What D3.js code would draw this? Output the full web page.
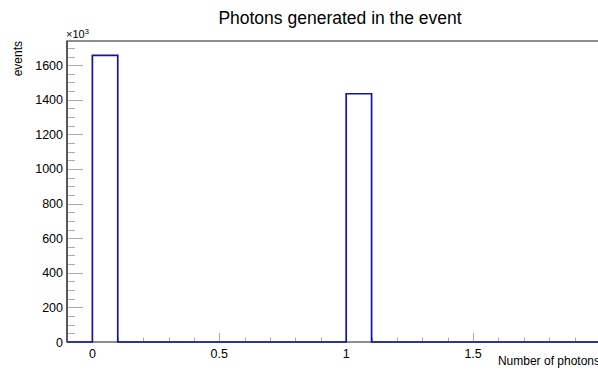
<!DOCTYPE html>
<html>
<head>
<meta charset="utf-8">
<script src="https://cdn.jsdelivr.net/npm/d3@7"></script>
<style>
  html, body { margin: 0; padding: 0; background: #fff; }
  svg { display: block; font-family: "Liberation Sans", Arial, Helvetica, sans-serif; }
</style>
</head>
<body>
<svg id="chart" width="598" height="371"></svg>
<script>
// Histogram content: bin lower edges with non-zero entries, and their counts
const photonBins = [0, 1];
const eventCounts = [1657000, 1435000];
const binWidth = 0.1;
const xRange = [-0.1, 2.0];
const yTickLabels = ["0", "200", "400", "600", "800", "1000", "1200", "1400", "1600"];
const xTickLabels = ["0", "0.5", "1", "1.5"];

const W = 598, H = 371;
const frame = { left: 67, right: 600, top: 41, bottom: 342 };

const svg = d3.select("#chart");

const yMax = d3.max(eventCounts) * 1.05;
const x = d3.scaleLinear().domain(xRange).range([frame.left, frame.right]);
const y = d3.scaleLinear().domain([0, yMax]).range([frame.bottom, frame.top]);

// Frame box
svg.append("rect")
  .attr("x", frame.left).attr("y", frame.top)
  .attr("width", frame.right - frame.left).attr("height", frame.bottom - frame.top)
  .attr("fill", "none").attr("stroke", "#444").attr("stroke-width", 1.2);

// Y axis ticks (major every 200k, minor every 50k)
const yMinor = d3.range(0, yMax, 50000);
svg.append("g").selectAll("line").data(yMinor).join("line")
  .attr("x1", frame.left).attr("x2", d => frame.left + (d % 200000 === 0 ? 16 : 8))
  .attr("y1", d => Math.round(y(d)) + 0.5).attr("y2", d => Math.round(y(d)) + 0.5)
  .attr("stroke", "#aaa").attr("stroke-width", 1);

svg.append("g").selectAll("text").data(yTickLabels).join("text")
  .attr("x", frame.left - 4)
  .attr("y", (d, i) => y(i * 200000))
  .attr("dy", "0.36em")
  .attr("text-anchor", "end")
  .attr("font-size", 12.5)
  .attr("fill", "#000")
  .text(d => d);

// Exponent marker
const expo = svg.append("text")
  .attr("x", frame.left - 1).attr("y", frame.top - 3)
  .attr("font-size", 11).attr("fill", "#000");
expo.append("tspan").text("\u00d710");
expo.append("tspan").attr("font-size", 7.5).attr("dy", -4).text("3");

// X axis ticks (major every 0.5, minor every 0.1)
const xMinor = d3.range(-1, 21).map(i => i / 10);
svg.append("g").selectAll("line").data(xMinor).join("line")
  .attr("x1", d => Math.round(x(d)) + 0.5).attr("x2", d => Math.round(x(d)) + 0.5)
  .attr("y1", frame.bottom)
  .attr("y2", d => frame.bottom - (Math.round(d * 10) % 5 === 0 ? 9 : 4.5))
  .attr("stroke", "#aaa").attr("stroke-width", 1);

svg.append("g").selectAll("text").data(xTickLabels).join("text")
  .attr("x", d => x(+d))
  .attr("y", frame.bottom + 16)
  .attr("text-anchor", "middle")
  .attr("font-size", 12.5)
  .attr("fill", "#000")
  .text(d => d);

// Histogram outline as a step path
const allBins = d3.range(Math.round((xRange[1] - xRange[0]) / binWidth)).map(i => {
  const lo = +(xRange[0] + i * binWidth).toFixed(4);
  const k = photonBins.findIndex(b => Math.abs(b - lo) < 1e-6);
  return { lo, hi: lo + binWidth, v: k >= 0 ? eventCounts[k] : 0 };
});
const pts = [];
allBins.forEach(b => {
  pts.push([x(b.lo), y(b.v)]);
  pts.push([x(b.hi), y(b.v)]);
});
svg.append("path")
  .attr("d", d3.line()(pts))
  .attr("fill", "none")
  .attr("stroke", "#1414a0")
  .attr("stroke-width", 1.7);

// Left axis line drawn over the ticks
svg.append("line")
  .attr("x1", frame.left).attr("x2", frame.left)
  .attr("y1", frame.top).attr("y2", frame.bottom)
  .attr("stroke", "#333").attr("stroke-width", 1.2);

// Titles
svg.append("text")
  .attr("x", 340).attr("y", 24)
  .attr("text-anchor", "middle")
  .attr("font-size", 17.5)
  .attr("fill", "#000")
  .text("Photons generated in the event");

svg.append("text")
  .attr("transform", `translate(22,${frame.top}) rotate(-90)`)
  .attr("text-anchor", "end")
  .attr("font-size", 12)
  .attr("fill", "#000")
  .text("events");

svg.append("text")
  .attr("x", frame.right).attr("y", 365)
  .attr("text-anchor", "end")
  .attr("font-size", 12)
  .attr("fill", "#000")
  .text("Number of photons");
</script>
</body>
</html>
